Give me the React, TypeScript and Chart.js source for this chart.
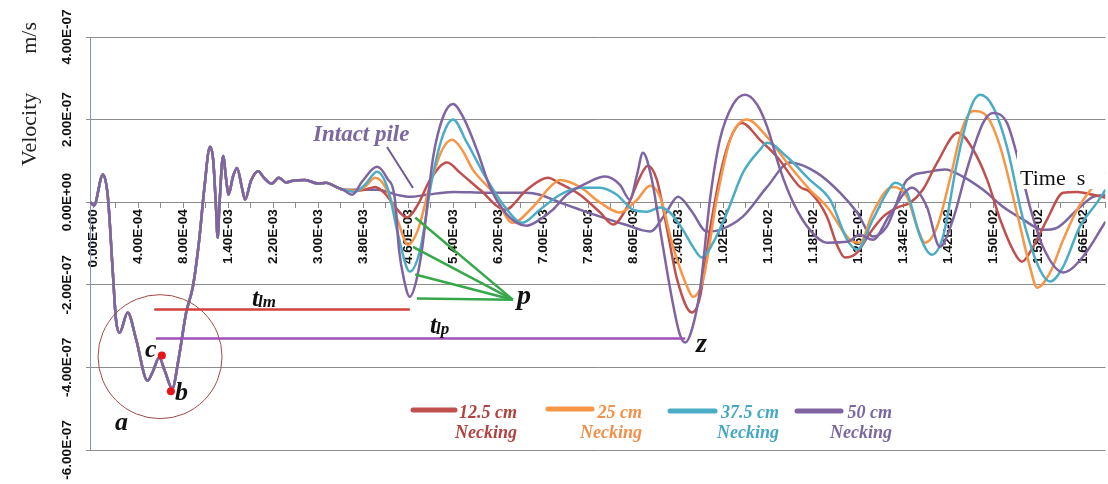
import React, { useEffect, useRef } from 'react';
import { Chart, registerables } from 'chart.js';

Chart.register(...registerables);

// Category axis: label i of xTickLabels sits at position i (Excel-style category index)
const xTickLabels = [
  '0.00E+00', '4.00E-04', '8.00E-04', '1.40E-03', '2.20E-03', '3.00E-03', '3.80E-03', '4.60E-03',
  '5.40E-03', '6.20E-03', '7.00E-03', '7.80E-03', '8.60E-03', '9.40E-03', '1.02E-02', '1.10E-02',
  '1.18E-02', '1.26E-02', '1.34E-02', '1.42E-02', '1.50E-02', '1.58E-02', '1.66E-02',
];
const yTickValues = [-6e-7, -4e-7, -2e-7, 0, 2e-7, 4e-7];
const yTickLabels = ['-6.00E-07', '-4.00E-07', '-2.00E-07', '0.00E+00', '2.00E-07', '4.00E-07'];

// velocities below are in units of 1e-7 m/s
const VEL_UNIT = 1e-7;

// shared early part (all five records coincide)
const tCommon = [-0.06, 0.02, 0.22, 0.33, 0.44, 0.51, 0.59, 0.77, 0.96, 1.21, 1.33, 1.47, 1.6, 1.76, 1.91, 2.07, 2.22, 2.36, 2.47, 2.6, 2.67, 2.73, 2.77, 2.81, 2.89, 2.96, 3.01, 3.11, 3.2, 3.31, 3.38, 3.51, 3.67, 3.8, 3.97, 4.13, 4.29, 4.44, 4.71, 5.0, 5.18, 5.4];
const vCommon = [0.0, -0.08, 0.67, 0.13, -1.7, -2.84, -3.16, -2.67, -3.33, -4.32, -4.1, -3.76, -4.1, -4.51, -3.74, -2.67, -2.04, -0.91, 0.3, 1.34, 1.03, -0.06, -0.86, -0.06, 1.12, 0.54, 0.18, 0.62, 0.83, 0.35, 0.06, 0.52, 0.75, 0.59, 0.45, 0.59, 0.48, 0.52, 0.54, 0.45, 0.47, 0.37];

const t125 = [5.56, 5.82, 6.04, 6.27, 6.49, 6.71, 6.98, 7.22, 7.49, 7.87, 8.16, 8.6, 9.16, 9.64, 10.11, 10.38, 10.82, 11.27, 11.56, 11.87, 12.16, 12.33, 12.53, 12.76, 12.98, 13.31, 13.49, 13.71, 14.0, 14.22, 14.42, 14.82, 15.2, 15.71, 15.93, 16.31, 16.53, 16.71, 16.98, 17.27, 17.56, 17.87, 18.16, 18.44, 18.76, 19.22, 19.56, 19.87, 20.16, 20.44, 20.64, 20.89, 21.2, 21.56, 21.87, 22.22, 22.5];
const v125 = [0.3, 0.28, 0.3, 0.37, 0.21, -0.11, -0.37, -0.06, 0.54, 0.96, 0.71, 0.3, -0.18, 0.3, 0.59, 0.45, 0.18, -0.25, -0.54, -0.11, 0.62, 0.88, 0.54, -0.67, -1.87, -2.67, -2.29, -0.67, 0.96, 1.68, 1.92, 1.51, 1.1, 0.37, 0.25, -0.35, -1.03, -1.34, -1.22, -0.74, -0.35, -0.13, -0.01, 0.3, 0.96, 1.68, 1.27, 0.54, -0.42, -1.15, -1.44, -1.08, -0.42, 0.23, 0.25, 0.18, 0.11];

const t25 = [5.56, 5.82, 6.04, 6.27, 6.53, 6.78, 7.0, 7.22, 7.49, 7.76, 7.98, 8.2, 8.44, 8.89, 9.33, 9.78, 10.16, 10.38, 10.82, 11.27, 11.71, 12.09, 12.38, 12.6, 12.89, 13.2, 13.33, 13.56, 13.87, 14.16, 14.53, 14.98, 15.42, 15.93, 16.31, 16.82, 17.04, 17.33, 17.64, 17.78, 18.09, 18.31, 18.49, 18.76, 19.04, 19.33, 19.56, 19.87, 20.16, 20.53, 20.82, 20.98, 21.27, 21.56, 21.87, 22.22, 22.5];
const v25 = [0.3, 0.28, 0.37, 0.59, 0.3, -0.47, -1.03, -0.67, 0.42, 1.27, 1.51, 1.27, 0.79, 0.23, -0.5, -0.11, 0.37, 0.54, 0.37, -0.01, -0.25, 0.06, 0.4, 0.13, -1.08, -2.04, -2.29, -1.87, 0.13, 1.51, 2.0, 1.58, 0.96, 0.3, -0.11, -0.91, -0.98, -0.25, 0.3, 0.37, 0.13, -0.59, -0.98, -0.59, 0.54, 1.83, 2.21, 2.07, 1.34, -0.25, -1.56, -2.07, -1.7, -0.91, -0.18, 0.37, 0.74];

const t375 = [5.56, 5.82, 6.04, 6.31, 6.56, 6.78, 7.04, 7.27, 7.53, 7.78, 8.0, 8.31, 8.76, 9.2, 9.53, 9.93, 10.38, 10.82, 11.27, 11.64, 12.0, 12.31, 12.6, 12.82, 13.11, 13.33, 13.53, 13.78, 14.09, 14.44, 14.82, 14.98, 15.42, 15.93, 16.38, 16.76, 16.98, 17.33, 17.64, 17.82, 18.09, 18.38, 18.64, 18.89, 19.2, 19.49, 19.71, 20.0, 20.31, 20.67, 21.04, 21.27, 21.56, 21.93, 22.31, 22.5];
const v375 = [0.3, 0.25, 0.42, 0.74, 0.3, -0.79, -1.68, -1.15, 0.54, 1.63, 2.0, 1.44, 0.54, -0.18, -0.5, -0.18, 0.18, 0.35, 0.35, 0.18, -0.18, -0.23, -0.13, -0.25, -0.67, -1.08, -1.34, -0.98, -0.25, 0.71, 1.27, 1.44, 1.1, 0.54, 0.06, -0.91, -1.15, -0.42, 0.23, 0.47, 0.23, -0.83, -1.27, -0.83, 0.96, 2.24, 2.6, 2.31, 1.34, -0.42, -1.63, -1.92, -1.56, -0.59, -0.01, 0.3];

const t50 = [5.56, 5.76, 5.98, 6.31, 6.53, 6.71, 6.8, 6.91, 7.04, 7.18, 7.31, 7.56, 7.78, 8.0, 8.22, 8.53, 8.82, 9.11, 9.42, 9.64, 9.93, 10.22, 10.53, 10.98, 11.38, 11.71, 11.93, 12.09, 12.22, 12.42, 12.64, 12.87, 13.04, 13.16, 13.31, 13.49, 13.71, 13.93, 14.22, 14.49, 14.76, 14.98, 15.27, 15.56, 15.93, 16.31, 16.76, 17.04, 17.33, 17.71, 18.2, 18.53, 18.82, 19.11, 19.42, 19.78, 20.0, 20.31, 20.56, 20.82, 21.11, 21.56, 22.0, 22.5];
const v50 = [0.3, 0.18, 0.5, 0.86, 0.59, 0.06, -1.15, -1.87, -2.29, -1.92, -1.15, 1.1, 2.07, 2.38, 2.07, 1.27, 0.37, -0.18, -0.5, -0.57, -0.42, -0.18, 0.18, 0.47, 0.62, 0.42, 0.06, 0.67, 1.2, 0.54, -0.91, -2.36, -3.2, -3.4, -3.08, -2.12, 0.06, 1.51, 2.36, 2.6, 2.36, 1.83, 0.79, -0.01, -0.67, -0.98, -0.96, -0.79, -0.91, -0.3, 0.35, -0.11, -1.08, -0.42, 0.79, 1.92, 2.16, 1.92, 1.03, -0.11, -1.08, -1.7, -1.32, -0.47];

const tIntact = [5.56, 5.93, 6.31, 6.82, 7.04, 7.42, 8.0, 8.76, 9.64, 9.93, 10.38, 10.82, 11.27, 11.82, 12.38, 12.71, 13.0, 13.31, 13.64, 13.93, 14.44, 14.98, 15.49, 16.09, 16.6, 16.98, 17.33, 17.64, 18.09, 18.6, 18.93, 19.33, 19.78, 20.22, 20.67, 21.11, 21.42, 21.87, 22.22, 22.5];
const vIntact = [0.3, 0.3, 0.3, 0.16, 0.13, 0.18, 0.25, 0.23, 0.23, 0.18, -0.01, -0.18, -0.35, -0.54, -0.71, -0.3, 0.13, -0.23, -0.71, -0.67, -0.35, 0.37, 0.96, 0.71, 0.23, -0.25, -0.83, -0.59, 0.54, 0.74, 0.79, 0.62, 0.3, -0.11, -0.42, -0.67, -0.62, -0.18, 0.13, 0.18];

const seriesLabels = ['50 cm Necking', '37.5 cm Necking', '25 cm Necking', '12.5 cm Necking', 'Intact pile'];
const seriesColors = ['#8064A2', '#4BACC6', '#F79646', '#C0504D', '#7A66A0'];

// annotation anchors in data units (category position, 1e-7 m/s)
const markC = { t: 1.53, v: -3.71 };
const markB = { t: 1.73, v: -4.58 };
const circleCentre = { t: 1.49, v: -3.74 };
const tlmLine = { t0: 1.36, t1: 7.04, v: -2.6 };
const tlpLine = { t0: 1.4, t1: 13.16, v: -3.3 };
const pAnchor = { t: 9.33, v: -2.36 };
const pTargets = [{ t: 7.16, v: -0.37 }, { t: 7.11, v: -1.08 }, { t: 7.16, v: -1.75 }, { t: 7.2, v: -2.33 }];

const X_MIN = -0.067;
const X_MAX = 22.5;

const xTickPositions: number[] = [];
for (let i = 0; i <= (xTickLabels.length - 1) * 2 + 1; i++) xTickPositions.push(i / 2);

function build(t: number[], v: number[], shared: boolean) {
  const tt = shared ? tCommon.concat(t) : t;
  const vv = shared ? vCommon.concat(v) : v;
  return tt.map((x, i) => ({ x, y: vv[i] * VEL_UNIT }));
}

const SERIF = '"Liberation Serif", "Times New Roman", serif';
const SANS = '"Liberation Sans", Arial, sans-serif';

const overlay = {
  id: 'overlay',
  afterDraw(chart: any) {
    const { ctx, chartArea: ca, scales } = chart;
    const X = (t: number) => scales.x.getPixelForValue(t);
    const Y = (v: number) => scales.y.getPixelForValue(v * VEL_UNIT);
    ctx.save();

    // y tick labels (rotated)
    ctx.fillStyle = '#111';
    ctx.font = `bold 13.5px ${SANS}`;
    ctx.textAlign = 'center';
    ctx.textBaseline = 'middle';
    yTickValues.forEach((val, i) => {
      ctx.save();
      ctx.translate(ca.left - 23, scales.y.getPixelForValue(val));
      ctx.rotate(-Math.PI / 2);
      ctx.fillText(yTickLabels[i], 0, 0);
      ctx.restore();
    });

    // y title
    ctx.fillStyle = '#222';
    ctx.font = `22px ${SERIF}`;
    ctx.textBaseline = 'middle';
    ctx.save();
    ctx.translate(30, 166);
    ctx.rotate(-Math.PI / 2);
    ctx.textAlign = 'left';
    ctx.fillText('Velocity', 0, 0);
    ctx.restore();
    ctx.save();
    ctx.translate(30, 22);
    ctx.rotate(-Math.PI / 2);
    ctx.textAlign = 'right';
    ctx.fillText('m/s', 0, 0);
    ctx.restore();

    // "Time s" box
    ctx.fillStyle = '#fff';
    ctx.fillRect(1017, 152, ca.right - 1017, 37);
    ctx.fillStyle = '#111';
    ctx.font = `22px ${SERIF}`;
    ctx.textAlign = 'left';
    ctx.textBaseline = 'alphabetic';
    ctx.fillText('Time  s', 1020, 185);

    // circle around the first trough
    ctx.strokeStyle = '#A24A45';
    ctx.lineWidth = 1;
    ctx.beginPath();
    ctx.arc(X(circleCentre.t), Y(circleCentre.v), 62, 0, Math.PI * 2);
    ctx.stroke();

    // t_lm and t_lp lines
    ctx.lineWidth = 2.5;
    ctx.strokeStyle = '#D0413F';
    ctx.beginPath();
    ctx.moveTo(X(tlmLine.t0), Y(tlmLine.v));
    ctx.lineTo(X(tlmLine.t1), Y(tlmLine.v));
    ctx.stroke();
    ctx.strokeStyle = '#A052B8';
    ctx.beginPath();
    ctx.moveTo(X(tlpLine.t0), Y(tlpLine.v));
    ctx.lineTo(X(tlpLine.t1), Y(tlpLine.v));
    ctx.stroke();

    // green leaders to p
    ctx.strokeStyle = '#36A84A';
    ctx.lineWidth = 2.5;
    pTargets.forEach((p) => {
      ctx.beginPath();
      ctx.moveTo(X(pAnchor.t), Y(pAnchor.v));
      ctx.lineTo(X(p.t), Y(p.v));
      ctx.stroke();
    });

    // intact pile pointer
    ctx.strokeStyle = '#6E5A96';
    ctx.lineWidth = 2;
    ctx.beginPath();
    ctx.moveTo(387, 147);
    ctx.lineTo(413, 188);
    ctx.stroke();

    // red marks c and b
    ctx.fillStyle = '#E8141B';
    [markC, markB].forEach((m) => {
      ctx.beginPath();
      ctx.arc(X(m.t), Y(m.v), 4, 0, Math.PI * 2);
      ctx.fill();
    });

    // letters
    ctx.fillStyle = '#111';
    ctx.textAlign = 'left';
    ctx.textBaseline = 'alphabetic';
    ctx.font = `bold italic 26px ${SERIF}`;
    ctx.fillText('c', 145, 357);
    ctx.fillText('b', 175, 400);
    ctx.fillText('a', 115, 430);
    ctx.font = `bold italic 28px ${SERIF}`;
    ctx.fillText('p', 517, 304);
    ctx.fillText('z', 696, 352);

    // t_lm, t_lp
    const sub = (main: string, s: string, x: number, y: number) => {
      ctx.font = `bold italic 25px ${SERIF}`;
      ctx.fillText(main, x, y);
      const w = ctx.measureText(main).width;
      ctx.font = `bold italic 17px ${SERIF}`;
      ctx.fillText(s, x + w - 1, y + 1);
    };
    sub('t', 'lm', 252, 306);
    sub('t', 'lp', 430, 333);

    // Intact pile label
    ctx.fillStyle = '#7A689E';
    ctx.font = `bold italic 23px ${SERIF}`;
    ctx.fillText('Intact pile', 313, 141);

    // legend
    const legend = [
      { color: '#C0504D', text: '#B0433F', a: 413, b: 455, y: 410, r: 517, top: '12.5 cm' },
      { color: '#F79646', text: '#F0904A', a: 548, b: 592, y: 409, r: 642, top: '25 cm' },
      { color: '#4BACC6', text: '#45A8C2', a: 670, b: 715, y: 411, r: 779, top: '37.5 cm' },
      { color: '#8064A2', text: '#7A68A0', a: 797, b: 841, y: 411, r: 892, top: '50 cm' },
    ];
    legend.forEach((l) => {
      ctx.strokeStyle = l.color;
      ctx.lineWidth = 5;
      ctx.lineCap = 'round';
      ctx.beginPath();
      ctx.moveTo(l.a, l.y);
      ctx.lineTo(l.b, l.y);
      ctx.stroke();
      ctx.fillStyle = l.text;
      ctx.font = `bold italic 18px ${SERIF}`;
      ctx.textAlign = 'right';
      ctx.fillText(l.top, l.r, 418);
      ctx.fillText('Necking', l.r, 438);
    });

    ctx.restore();
  },
};

export default function App() {
  const ref = useRef<HTMLCanvasElement>(null);
  useEffect(() => {
    document.body.style.margin = '0';
    const canvas = ref.current as HTMLCanvasElement;
    const data = [
      build(t50, v50, true),
      build(t375, v375, true),
      build(t25, v25, true),
      build(t125, v125, true),
      build(tIntact, vIntact, true),
    ];
    const chart = new Chart(canvas, {
      type: 'line',
      data: {
        datasets: data.map((d, i) => ({
          label: seriesLabels[i],
          data: d,
          borderColor: seriesColors[i],
          backgroundColor: seriesColors[i],
          borderWidth: 2.5,
          pointRadius: 0,
          cubicInterpolationMode: 'monotone' as const,
          fill: false,
        })),
      },
      options: {
        responsive: false,
        animation: false,
        devicePixelRatio: 1,
        layout: { padding: { left: 0, top: 37, right: 2.5, bottom: 34 } },
        plugins: { legend: { display: false }, tooltip: { enabled: false } },
        scales: {
          x: {
            type: 'linear',
            position: { y: 0 } as any,
            min: X_MIN,
            max: X_MAX,
            afterBuildTicks: (s: any) => {
              s.ticks = xTickPositions.map((v) => ({ value: v }));
            },
            afterFit: (s: any) => {
              s.paddingLeft = 0;
              s.paddingRight = 0;
            },
            ticks: {
              autoSkip: false,
              minRotation: 90,
              maxRotation: 90,
              padding: 2,
              color: '#111',
              font: { family: SANS, size: 13.5, weight: 'bold' },
              callback: (value: any) => (Number.isInteger(value) ? xTickLabels[value] ?? '' : ''),
            },
            grid: { drawOnChartArea: false, drawTicks: true, tickLength: 5, color: '#8A8A8A' },
            border: { color: '#8A8A8A', width: 1 },
          },
          y: {
            type: 'linear',
            min: -6e-7,
            max: 4e-7,
            afterBuildTicks: (s: any) => {
              s.ticks = yTickValues.map((v) => ({ value: v }));
            },
            afterFit: (s: any) => {
              s.width = 90;
              s.paddingTop = 0;
              s.paddingBottom = 0;
            },
            ticks: { display: false },
            grid: { color: '#8C8C8C', tickLength: 4, drawTicks: true },
            border: { color: '#8497B0', width: 1 },
          },
        },
      },
      plugins: [overlay],
    } as any);
    return () => chart.destroy();
  }, []);
  return (
    <div style={{ width: 1108, height: 484, position: 'relative', background: '#fff' }}>
      <canvas ref={ref} width={1108} height={484} style={{ width: 1108, height: 484, display: 'block' }} />
    </div>
  );
}
